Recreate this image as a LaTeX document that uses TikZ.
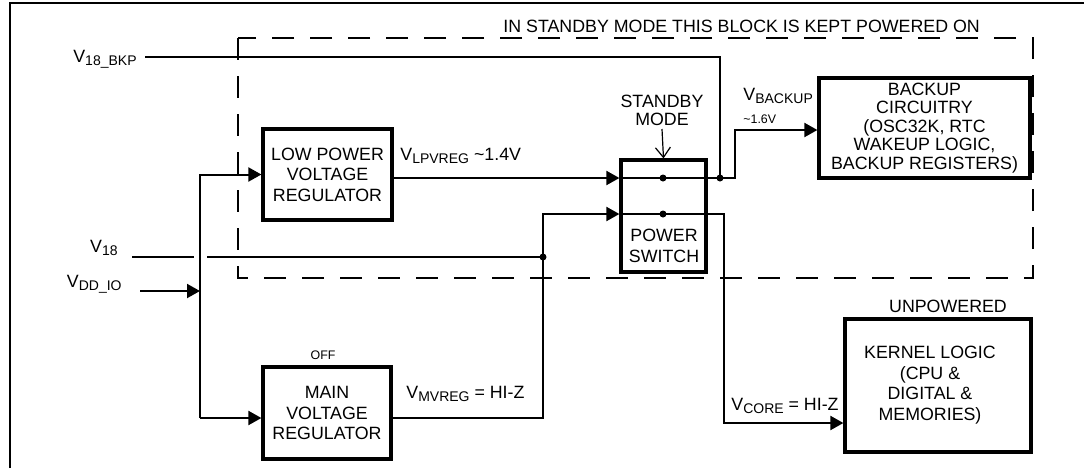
\documentclass[tikz,border=0pt]{standalone}
\usepackage{fontspec}
\setmainfont{Liberation Sans}
\usetikzlibrary{arrows.meta}
\newcommand\fz{\fontsize{8.9}{10.25}\selectfont}
\newcommand\fsm{\fontsize{6.2}{7}\selectfont}
\newcommand\sbs[1]{\raisebox{-1.8pt}{\fontsize{7}{7}\selectfont #1}}
\begin{document}
\begin{tikzpicture}[x=0.5pt,y=-0.5pt,
  box/.style={draw, line width=1.6pt, align=center, inner sep=0pt, font=\fz},
  wire/.style={line width=1pt},
  arr/.style={wire, -{Triangle[length=6.5pt,width=7pt]}},
  lbl/.style={inner sep=0pt, font=\fz},
  dot/.style={circle, fill, inner sep=0pt, minimum size=3.5pt},
  ]
\useasboundingbox (0,0) rectangle (1084,468);
% frame
\draw[line width=1.3pt] (10,468) -- (10,3) -- (1084,3);
% standby region
\draw[line width=1pt, dash pattern=on 11pt off 8pt] (238,38) rectangle (1033,278);
\node[lbl, anchor=base west] (ltitle) at (503,32) {IN STANDBY MODE THIS BLOCK IS KEPT POWERED ON};

% boxes
\node[box, minimum width=64.5pt, minimum height=45.5pt] (lpr) at (327.5,174.5) {LOW POWER\\VOLTAGE\\REGULATOR};
\node[box, minimum width=64pt, minimum height=46pt] (mvr) at (327,413) {MAIN\\VOLTAGE\\REGULATOR};
\node[box, minimum width=42.5pt, minimum height=56pt] (psw) at (663.5,216) {};
\node[lbl, align=center] (pswt) at (664,246) {POWER\\SWITCH};
\node[box, minimum width=105.5pt, minimum height=50pt, font=\fontsize{8.9}{9.25}\selectfont] (bkp) at (924.5,128) {BACKUP\\CIRCUITRY\\(OSC32K, RTC\\WAKEUP LOGIC,\\BACKUP REGISTERS)};
\node[box, minimum width=93pt, minimum height=66.5pt] (krn) at (938,385.5) {};
\node[lbl, align=center] (krnt) at (930,385) {KERNEL LOGIC\\(CPU \&\\DIGITAL \&\\MEMORIES)};

% labels
\node[lbl, anchor=base east] (l18bkp) at (137,62) {V\sbs{18\_BKP}};
\node[lbl, anchor=base east] (l18) at (118,252) {V\sbs{18}};
\node[lbl, anchor=base east] (lvdd) at (122,287) {V\sbs{DD\_IO}};
\node[lbl, anchor=base west] (llp) at (400,160) {V\sbs{LPVREG} \textasciitilde1.4V};
\node[lbl, anchor=base west] (lbk) at (743,100) {V\sbs{BACKUP}};
\node[lbl, anchor=base west, font=\fsm] (lbk2) at (743,123) {\textasciitilde1.6V};
\node[lbl, align=center, anchor=south, font=\fontsize{8.9}{9}\selectfont] (lsb) at (662,126) {STANDBY\\MODE};
\node[lbl, anchor=base west] (lmv) at (406,398) {V\sbs{MVREG} = HI-Z};
\node[lbl, anchor=base west] (lco) at (731,410) {V\sbs{CORE} = HI-Z};
\node[lbl, anchor=base, font=\fsm] (loff) at (323,359) {OFF};
\node[lbl, anchor=base] (lunp) at (948,312) {UNPOWERED};

% coordinates
\coordinate (d1) at (663,178);
\coordinate (d2) at (663,214);
\coordinate (j1) at (720,178);
\coordinate (j2) at (543,257);
\coordinate (bus) at (200,291);
\coordinate (busB) at (200,418);
\coordinate (bkpS) at (145,57);
\coordinate (v18S) at (132,257);
\coordinate (v18g1) at (194,257);
\coordinate (v18g2) at (207,257);
\coordinate (vddS) at (140,291);
\coordinate (mvT) at (543,214);
\coordinate (bkR) at (735,130);
\coordinate (coR) at (724,423);
\coordinate (sbS) at (662,129);

% wires
\draw[wire] (bkpS) -| (j1);
\draw[arr] (vddS) -- (bus);
\draw[arr] (busB) |- (lpr.west);
\draw[arr] (busB) -- (mvr.west |- busB);
\draw[wire] (v18S) -- (v18g1);
\draw[wire] (v18g2) -- (j2);
\draw[arr] (mvr.east |- busB) -| (mvT) -- (psw.west |- mvT);
\draw[arr] (lpr.east |- d1) -- (psw.west |- d1);
\draw[wire] (psw.west |- d1) -- (j1);
\draw[arr] (j1) -| (bkR) -- (bkp.west |- bkR);
\draw[wire] (psw.west |- d2) -- (d2);
\draw[arr] (d2) -| (coR) -- (krn.west |- coR);
\draw[line width=0.6pt, -{Straight Barb[length=5pt,width=7.5pt]}] (sbS) -- (psw.north);

% dots
\node[dot] at (d1) {};
\node[dot] at (d2) {};
\node[dot] at (j1) {};
\node[dot] at (j2) {};
\end{tikzpicture}
\end{document}
